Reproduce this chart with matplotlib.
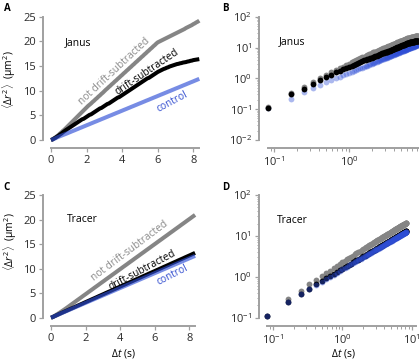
import numpy as np
import matplotlib
matplotlib.use('Agg')
import matplotlib.pyplot as plt

plt.rcParams['font.family'] = ['Open Sans', 'DejaVu Sans']
plt.rcParams['mathtext.fontset'] = 'custom'
plt.rcParams['mathtext.rm'] = 'Open Sans'
plt.rcParams['mathtext.it'] = 'Open Sans:italic'

# lag times (s), 1/12 s steps
lag = np.arange(1, 101) / 12.0

# Janus particle MSD (um^2)
janus_not_sub = [
    0.12, 0.33, 0.53, 0.77, 1.0, 1.3, 1.55, 1.85, 2.1, 2.4, 2.7, 3.0,
    3.3, 3.6, 3.9, 4.2, 4.5, 4.8, 5.1, 5.4, 5.7, 6.0, 6.3, 6.6,
    6.9, 7.15, 7.4, 7.7, 7.95, 8.25, 8.5, 8.8, 9.05, 9.35, 9.6, 9.9,
    10.2, 10.45, 10.75, 11.0, 11.3, 11.55, 11.85, 12.1, 12.4, 12.65, 12.95, 13.2,
    13.5, 13.75, 14.05, 14.3, 14.6, 14.85, 15.15, 15.4, 15.7, 15.95, 16.25, 16.5,
    16.8, 17.05, 17.35, 17.6, 17.9, 18.15, 18.45, 18.7, 19.0, 19.25, 19.55, 19.8,
    19.95, 20.1, 20.25, 20.4, 20.55, 20.7, 20.85, 21.0, 21.15, 21.3, 21.45, 21.6,
    21.75, 21.9, 22.05, 22.2, 22.35, 22.5, 22.7, 22.85, 23.0, 23.15, 23.3, 23.5,
    23.65, 23.85, 24.0, 24.2]
janus_sub = [
    0.11, 0.30, 0.46, 0.67, 0.86, 1.1, 1.3, 1.56, 1.78, 2.0, 2.2, 2.4,
    2.6, 2.8, 3.0, 3.2, 3.4, 3.6, 3.8, 4.0, 4.2, 4.3, 4.5, 4.7,
    4.9, 5.1, 5.2, 5.4, 5.6, 5.8, 6.0, 6.2, 6.4, 6.5, 6.7, 6.9,
    7.1, 7.3, 7.4, 7.6, 7.8, 8.0, 8.2, 8.4, 8.6, 8.7, 8.9, 9.1,
    9.3, 9.5, 9.7, 9.9, 10.1, 10.3, 10.5, 10.7, 10.9, 11.1, 11.3, 11.5,
    11.7, 11.9, 12.1, 12.3, 12.5, 12.6, 12.8, 13.0, 13.2, 13.4, 13.6, 13.8,
    13.95, 14.1, 14.25, 14.4, 14.5, 14.65, 14.75, 14.9, 15.0, 15.1, 15.2, 15.3,
    15.4, 15.45, 15.55, 15.6, 15.7, 15.75, 15.8, 15.9, 15.95, 16.05, 16.1, 16.2,
    16.25, 16.3, 16.35, 16.4]
janus_ctrl = [
    0.11, 0.22, 0.35, 0.5, 0.63, 0.76, 0.88, 1.0, 1.12, 1.24, 1.36, 1.49,
    1.61, 1.74, 1.86, 1.98, 2.11, 2.23, 2.36, 2.48, 2.6, 2.73, 2.85, 2.98,
    3.1, 3.22, 3.35, 3.47, 3.6, 3.72, 3.84, 3.97, 4.09, 4.22, 4.34, 4.46,
    4.59, 4.71, 4.84, 4.96, 5.08, 5.21, 5.33, 5.46, 5.58, 5.7, 5.83, 5.95,
    6.08, 6.2, 6.32, 6.45, 6.57, 6.7, 6.82, 6.94, 7.07, 7.19, 7.32, 7.44,
    7.56, 7.69, 7.81, 7.94, 8.06, 8.18, 8.31, 8.43, 8.56, 8.68, 8.8, 8.93,
    9.05, 9.18, 9.3, 9.42, 9.55, 9.67, 9.8, 9.92, 10.04, 10.17, 10.29, 10.42,
    10.54, 10.66, 10.79, 10.91, 11.04, 11.16, 11.28, 11.41, 11.53, 11.66, 11.78, 11.9,
    12.03, 12.15, 12.28, 12.4]

# tracer particle MSD (um^2)
tracer_not_sub = [
    0.11, 0.29, 0.46, 0.65, 0.83, 1.02, 1.22, 1.42, 1.62, 1.82, 2.03, 2.24,
    2.45, 2.67, 2.88, 3.09, 3.3, 3.52, 3.73, 3.94, 4.15, 4.37, 4.58, 4.79,
    5.0, 5.22, 5.43, 5.64, 5.85, 6.07, 6.28, 6.49, 6.7, 6.92, 7.13, 7.34,
    7.55, 7.77, 7.98, 8.19, 8.4, 8.62, 8.83, 9.04, 9.25, 9.47, 9.68, 9.89,
    10.1, 10.32, 10.53, 10.74, 10.95, 11.17, 11.38, 11.59, 11.8, 12.02, 12.23, 12.44,
    12.65, 12.87, 13.08, 13.29, 13.5, 13.72, 13.93, 14.14, 14.35, 14.57, 14.78, 14.99,
    15.2, 15.42, 15.63, 15.84, 16.05, 16.27, 16.48, 16.69, 16.9, 17.12, 17.33, 17.54,
    17.75, 17.97, 18.18, 18.39, 18.6, 18.82, 19.03, 19.24, 19.45, 19.67, 19.88, 20.09,
    20.3, 20.52, 20.73, 20.94]
tracer_sub = [
    0.11, 0.24, 0.38, 0.51, 0.65, 0.79, 0.92, 1.06, 1.19, 1.32, 1.45, 1.58,
    1.72, 1.85, 1.98, 2.11, 2.24, 2.38, 2.51, 2.64, 2.77, 2.9, 3.04, 3.17,
    3.3, 3.43, 3.56, 3.7, 3.83, 3.96, 4.09, 4.22, 4.36, 4.49, 4.62, 4.75,
    4.88, 5.02, 5.15, 5.28, 5.41, 5.54, 5.68, 5.81, 5.94, 6.07, 6.2, 6.34,
    6.47, 6.6, 6.73, 6.86, 7.0, 7.13, 7.26, 7.39, 7.52, 7.66, 7.79, 7.92,
    8.05, 8.18, 8.32, 8.45, 8.58, 8.71, 8.84, 8.98, 9.11, 9.24, 9.37, 9.5,
    9.64, 9.77, 9.9, 10.03, 10.16, 10.3, 10.43, 10.56, 10.69, 10.82, 10.96, 11.09,
    11.22, 11.35, 11.48, 11.62, 11.75, 11.88, 12.01, 12.14, 12.28, 12.41, 12.54, 12.67,
    12.8, 12.94, 13.07, 13.2]
tracer_ctrl = [
    0.11, 0.24, 0.37, 0.5, 0.63, 0.76, 0.88, 1.01, 1.13, 1.26, 1.39, 1.51,
    1.64, 1.76, 1.89, 2.02, 2.14, 2.27, 2.39, 2.52, 2.65, 2.77, 2.9, 3.02,
    3.15, 3.28, 3.4, 3.53, 3.65, 3.78, 3.91, 4.03, 4.16, 4.28, 4.41, 4.54,
    4.66, 4.79, 4.91, 5.04, 5.17, 5.29, 5.42, 5.54, 5.67, 5.8, 5.92, 6.05,
    6.17, 6.3, 6.43, 6.55, 6.68, 6.8, 6.93, 7.06, 7.18, 7.31, 7.43, 7.56,
    7.69, 7.81, 7.94, 8.06, 8.19, 8.32, 8.44, 8.57, 8.69, 8.82, 8.95, 9.07,
    9.2, 9.32, 9.45, 9.58, 9.7, 9.83, 9.95, 10.08, 10.21, 10.33, 10.46, 10.58,
    10.71, 10.84, 10.96, 11.09, 11.21, 11.34, 11.47, 11.59, 11.72, 11.84, 11.97, 12.1,
    12.22, 12.35, 12.47, 12.6]

GRAY = '#858585'
BLUE = '#2f4fd6'
SPINE = '#a0a0a0'

W, H = 419, 359


def rect(l, r, t, b):
    # pixel box -> figure fraction
    return [l / W, 1 - b / H, (r - l) / W, (b - t) / H]


def style(ax):
    for s in ['top', 'right']:
        ax.spines[s].set_visible(False)
    for s in ['left', 'bottom']:
        ax.spines[s].set_position(('outward', 6))
        ax.spines[s].set_color(SPINE)
        ax.spines[s].set_linewidth(1.4)
    ax.tick_params(which='major', direction='out', length=3, width=0.9,
                   color=SPINE, labelsize=8, labelcolor='#2a2a2a', pad=2)
    ax.tick_params(which='minor', direction='out', length=1.8, width=0.7, color=SPINE)
    ax.patch.set_alpha(0)


fig = plt.figure(figsize=(W / 100, H / 100), dpi=100)

ylab = r'$\langle\Delta r^2\rangle$  (μm$^2$)'
xlab = r'$\Delta t$ (s)'


def linear_panel(ax, ns, sub, ctrl, name, txt):
    t0 = np.concatenate([[0], lag])
    ax.plot(t0, np.concatenate([[0], ns]), color=GRAY, lw=2.9, solid_capstyle='butt', clip_on=False)
    ax.plot(t0, np.concatenate([[0], sub]), color='k', lw=2.9, solid_capstyle='butt', clip_on=False)
    ax.plot(t0, np.concatenate([[0], ctrl]), color=BLUE, lw=2.9, alpha=0.65,
            solid_capstyle='butt', clip_on=False)
    ax.set_xlim(0, 8.3)
    ax.set_ylim(0, 25)
    ax.set_xticks([0, 2, 4, 6, 8])
    ax.set_yticks([0, 5, 10, 15, 20, 25])
    style(ax)
    ax.text(txt['name'][0], txt['name'][1], name, fontsize=7.5, ha='left', va='center')
    for key, col in [('ns', '#8a8a8a'), ('sub', 'k'), ('ctrl', '#3550d0')]:
        x, y, ang = txt[key]
        label = {'ns': 'not drift-subtracted', 'sub': 'drift-subtracted', 'ctrl': 'control'}[key]
        ax.text(x, y, label, color=col, fontsize=7.3, rotation=ang,
                ha='center', va='center', rotation_mode='anchor')


def log_panel(ax, ns, sub, ctrl, name, blue_on_top, ylim, xlim):
    ms = 4.2
    if blue_on_top:
        ax.plot(lag, ns, 'o', color=GRAY, ms=ms, mew=0, clip_on=False)
        ax.plot(lag, sub, 'o', color='k', ms=ms, mew=0, clip_on=False)
        ax.plot(lag, ctrl, 'o', color=BLUE, ms=ms, mew=0, alpha=0.45, clip_on=False)
    else:
        ax.plot(lag, ctrl, 'o', color=BLUE, ms=ms, mew=0, alpha=0.4, clip_on=False)
        ax.plot(lag, ns, 'o', color=GRAY, ms=ms, mew=0, clip_on=False)
        ax.plot(lag, sub, 'o', color='k', ms=ms, mew=0, clip_on=False)
    ax.set_xscale('log')
    ax.set_yscale('log')
    ax.set_xlim(*xlim)
    ax.set_ylim(*ylim)
    style(ax)
    ax.text(0.07, 0.795, name, transform=ax.transAxes, fontsize=7.5, ha='left', va='center')


# A
axA = fig.add_axes(rect(51, 198.7, 16.7, 140))
linear_panel(axA, janus_not_sub, janus_sub, janus_ctrl, 'Janus',
             {'name': (0.79, 19.8), 'ns': (3.55, 13.85, 43), 'sub': (5.38, 13.7, 34),
              'ctrl': (6.83, 7.8, 28)})
axA.set_ylabel(ylab, fontsize=7.5)
axA.yaxis.set_label_coords(-0.225, 0.49)

# B
axB = fig.add_axes(rect(267.5, 430, 16.7, 140))
log_panel(axB, janus_not_sub, janus_sub, janus_ctrl, 'Janus', False, (0.01, 100), (0.082, 12))
# the 10^1 label of panel B falls outside the figure
axB.set_xticks([0.1, 1, 10], labels=[r'$10^{-1}$', r'$10^{0}$', ''])

# C
axC = fig.add_axes(rect(51, 194.5, 195, 317.7))
linear_panel(axC, tracer_not_sub, tracer_sub, tracer_ctrl, 'Tracer',
             {'name': (0.93, 20.0), 'ns': (4.57, 13.5, 37), 'sub': (5.29, 9.6, 28),
              'ctrl': (7.0, 8.7, 27)})
axC.set_ylabel(ylab, fontsize=7.5)
axC.yaxis.set_label_coords(-0.226, 0.62)
axC.set_xlabel(xlab, fontsize=7.5)
axC.xaxis.set_label_coords(0.504, -0.235)

# D
axD = fig.add_axes(rect(267, 416.2, 195, 317.7))
log_panel(axD, tracer_not_sub, tracer_sub, tracer_ctrl, 'Tracer', True, (0.1, 100), (0.082, 11.5))
axD.set_xlabel(xlab, fontsize=7.5)
axD.xaxis.set_label_coords(0.51, -0.235)

for letter, (px, py) in {'A': (4, 3), 'B': (222, 3), 'C': (3, 182), 'D': (222, 182)}.items():
    fig.text(px / W, 1 - py / H, letter, fontsize=7, fontweight='bold', va='top', ha='left')

fig.savefig('out.png', dpi=100)
